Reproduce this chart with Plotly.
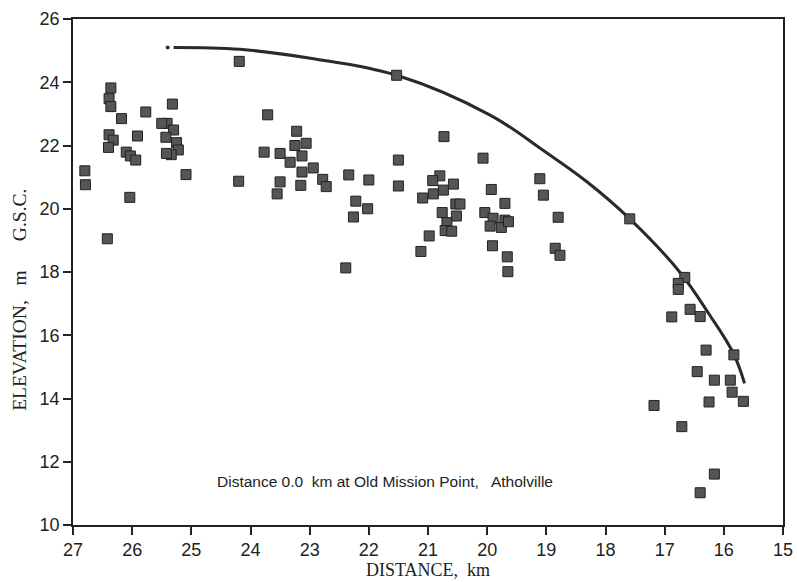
import plotly.graph_objects as go

# Observed elevations (distance km, elevation m G.S.C.)
dist = [26.80, 26.79, 26.42, 26.36, 26.39, 26.36, 26.18, 25.77, 26.39, 26.32, 26.40, 26.10,
        26.03, 25.94, 25.91, 26.04, 25.32, 25.41, 25.50, 25.30, 25.43, 25.25, 25.22, 25.34,
        25.42, 25.09, 24.19, 24.20,
        23.71, 23.22, 23.25, 23.06, 23.77, 23.50, 23.33, 23.13, 23.13, 22.94, 22.78, 22.72,
        23.50, 23.55, 23.15,
        22.34, 22.00, 22.22, 22.02, 22.26, 22.39,
        21.50, 21.50, 21.53,
        20.73, 20.80, 20.92, 20.57, 20.74, 20.91, 21.09, 20.53, 20.46, 20.76, 20.52, 20.68,
        20.71, 20.60, 20.98, 21.12,
        20.07, 19.93, 19.70, 20.04, 19.90, 19.70, 19.95, 19.76, 19.64, 19.91, 19.66, 19.65,
        19.11, 19.05, 18.80, 18.85, 18.77,
        17.59,
        16.66, 16.77, 16.77, 16.57, 16.88, 16.40, 16.30, 15.83, 16.45, 16.16, 15.89, 15.86,
        15.67, 16.25, 17.18, 16.71, 16.16, 16.40]
elev = [21.20, 20.76, 19.05, 23.82, 23.48, 23.23, 22.85, 23.06, 22.34, 22.17, 21.94, 21.79,
        21.67, 21.54, 22.30, 20.36, 23.31, 22.70, 22.70, 22.49, 22.26, 22.09, 21.86, 21.71,
        21.75, 21.08, 24.66, 20.87,
        22.97, 22.45, 22.00, 22.07, 21.79, 21.75, 21.47, 21.67, 21.16, 21.29, 20.93, 20.70,
        20.85, 20.47, 20.74,
        21.07, 20.91, 20.24, 20.00, 19.74, 18.13,
        21.54, 20.72, 24.22,
        22.28, 21.04, 20.89, 20.78, 20.59, 20.47, 20.34, 20.15, 20.15, 19.88, 19.77, 19.56,
        19.31, 19.29, 19.14, 18.65,
        21.60, 20.61, 20.17, 19.88, 19.70, 19.64, 19.45, 19.41, 19.59, 18.83, 18.48, 18.01,
        20.95, 20.43, 19.73, 18.75, 18.53,
        19.68,
        17.83, 17.64, 17.45, 16.82, 16.58, 16.59, 15.53, 15.38, 14.85, 14.58, 14.58, 14.20,
        13.91, 13.89, 13.78, 13.11, 11.61, 11.02]

# Envelope curve
curve_x = [25.30, 24.18, 22.99, 21.53, 19.95, 19.05, 18.32, 17.59, 16.75, 16.24, 15.84, 15.65]
curve_y = [25.10, 25.04, 24.76, 24.22, 22.96, 21.84, 20.86, 19.68, 18.01, 16.64, 15.43, 14.48]
start_dot_x = [25.40]
start_dot_y = [25.10]

x_ticks = [27, 26, 25, 24, 23, 22, 21, 20, 19, 18, 17, 16, 15]
y_ticks = [10, 12, 14, 16, 18, 20, 22, 24, 26]

fig = go.Figure()
fig.add_trace(go.Scatter(x=curve_x, y=curve_y, mode="lines",
                         line=dict(color="#2a2a2a", width=3, shape="spline", smoothing=1.1),
                         hoverinfo="skip"))
fig.add_trace(go.Scatter(x=start_dot_x, y=start_dot_y, mode="markers",
                         marker=dict(symbol="circle", size=4, color="#333")))
fig.add_trace(go.Scatter(x=dist, y=elev, mode="markers",
                         marker=dict(symbol="square", size=10, color="#555555",
                                     line=dict(color="#222222", width=1))))

tickfont = dict(family="Liberation Sans Narrow, Liberation Sans, Arial", size=18, color="#222")
serif = "Liberation Serif, Times New Roman"
fig.update_layout(
    width=797, height=582,
    margin=dict(l=73, r=14, t=19, b=57),
    paper_bgcolor="white", plot_bgcolor="white",
    showlegend=False,
    xaxis=dict(range=[27, 15], tickvals=x_ticks, ticktext=[str(v) for v in x_ticks],
               ticks="outside", ticklen=8, tickwidth=1.5, tickcolor="#222",
               showline=True, linecolor="#222", linewidth=1.5, mirror=True,
               showgrid=False, zeroline=False, tickfont=tickfont, automargin=False,
               title=dict(text="DISTANCE,  km", standoff=4,
                          font=dict(family=serif, size=18, color="#222"))),
    yaxis=dict(range=[10, 26], tickvals=y_ticks, ticktext=[str(v) for v in y_ticks],
               ticks="outside", ticklen=8, tickwidth=1.5, tickcolor="#222",
               showline=True, linecolor="#222", linewidth=1.5, mirror=True,
               showgrid=False, zeroline=False, tickfont=tickfont, automargin=False),
    annotations=[
        dict(x=21.73, y=11.36, xref="x", yref="y", showarrow=False,
             text="Distance 0.0  km at Old Mission Point,   Atholville",
             font=dict(family="Liberation Sans Narrow, Liberation Sans, Arial", size=15.5, color="#222")),
        dict(x=-0.0746, y=0.445, xref="paper", yref="paper", showarrow=False, textangle=-90,
             xanchor="center", yanchor="middle",
             text="ELEVATION,   m      G.S.C.",
             font=dict(family=serif, size=19.5, color="#222")),
    ],
)

fig.write_html("out.html")
